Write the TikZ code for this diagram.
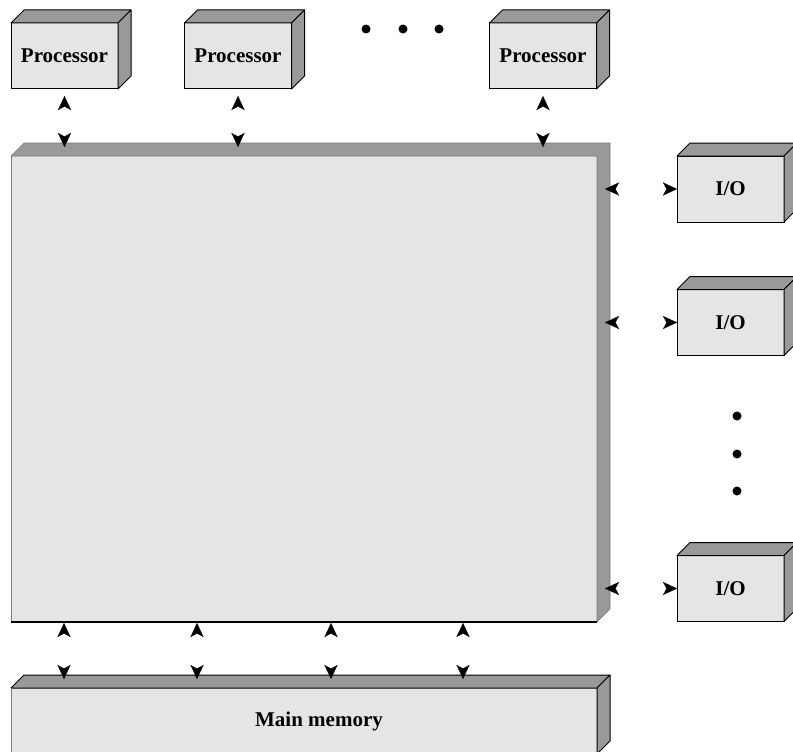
\documentclass[tikz,border=0pt]{standalone}
\usepackage{fontspec}
\setmainfont{Liberation Serif}
\usetikzlibrary{arrows.meta}
\definecolor{frontc}{HTML}{E5E5E5}
\definecolor{sidec}{HTML}{999999}
\definecolor{edgec}{HTML}{7A7A7A}
% top and right faces of a box whose front face is node #1
\newcommand{\boxfaces}[2]{%
  \filldraw[#2] (#1.north west) -- ++(13,-13) -- ([shift={(13,-13)}]#1.north east) -- (#1.north east) -- cycle;
  \filldraw[#2] (#1.north east) -- ++(13,-13) -- ([shift={(13,-13)}]#1.south east) -- (#1.south east) -- cycle;
}
\begin{document}
\begin{tikzpicture}[x=1pt,y=-1pt,
  cube/.style={draw=black, line width=1pt, fill=frontc, minimum width=107pt, minimum height=66pt,
    outer sep=0pt, inner sep=0pt, font=\fontsize{21}{25}\selectfont\bfseries},
  face/.style={fill=sidec, draw=black, line width=1pt, line join=round},
  softface/.style={fill=sidec, draw=edgec, line width=0.6pt, line join=round},
  bus/.style={draw=white, line width=0.1pt, >={Stealth[length=14pt 0 0,width=13pt 0 0,inset=3.5pt 0 0,color=black,fill=black]}, <->},
  dot/.style={circle, fill=black, minimum size=9pt, inner sep=0pt}]
\clip (0,0) rectangle (793,752);

% system interconnect (large box)
\node[fill=frontc, minimum width=586pt, minimum height=466pt, outer sep=0pt, inner sep=0pt] (sys) at (304,389) {};
\filldraw[softface] (sys.north west) -- ++(13,-13) -- ([shift={(13,-13)}]sys.north east)
  -- ([shift={(13,-13)}]sys.south east) -- (sys.south east) -- (sys.north east) -- cycle;
\draw[edgec, line width=0.6pt] (sys.north west) -- (sys.south west);
\draw[black, line width=1.2pt] (sys.south west) -- (sys.south east);

% processors
\node[cube] (p1) at (64.5,56) {Processor};
\boxfaces{p1}{face}
\node[cube] (p2) at (238,56) {Processor};
\boxfaces{p2}{face}
\node[cube] (p3) at (543,56) {Processor};
\boxfaces{p3}{face}
\node[dot] (h1) at (366,29) {};
\node[dot] (h2) at (403,29) {};
\node[dot] (h3) at (439,29) {};

% I/O modules
\node[cube] (io1) at (730.5,189) {I/O};
\boxfaces{io1}{face}
\node[cube] (io2) at (730.5,322.5) {I/O};
\boxfaces{io2}{face}
\node[cube] (io3) at (730.5,588.5) {I/O};
\boxfaces{io3}{face}
\node[dot] (v1) at (737,416) {};
\node[dot] (v2) at (737,454) {};
\node[dot] (v3) at (737,491) {};

% main memory
\node[fill=frontc, minimum width=586pt, minimum height=66pt, outer sep=0pt, inner sep=0pt] (mem) at (304,721) {};
\boxfaces{mem}{face}
\draw[edgec, line width=0.6pt] (mem.north west) -- (mem.south west);
\node[font=\fontsize{21}{25}\selectfont\bfseries, inner sep=0pt] (memtext) at (319,721) {Main memory};

% processor connections
\draw[bus] ([yshift=-7pt]p1.south) -- ([yshift=9pt]p1.south |- sys.north);
\draw[bus] ([yshift=-7pt]p2.south) -- ([yshift=9pt]p2.south |- sys.north);
\draw[bus] ([yshift=-7pt]p3.south) -- ([yshift=9pt]p3.south |- sys.north);

% I/O connections
\draw[bus] ([xshift=8pt]sys.east |- io1.west) -- (io1.west);
\draw[bus] ([xshift=8pt]sys.east |- io2.west) -- (io2.west);
\draw[bus] ([xshift=8pt]sys.east |- io3.west) -- (io3.west);

% memory connections
\coordinate (b1) at (64,622);
\coordinate (b2) at (197,622);
\coordinate (b3) at (331,622);
\coordinate (b4) at (463,622);
\draw[bus] ([yshift=-1pt]b1) -- ([yshift=9pt]b1 |- mem.north);
\draw[bus] ([yshift=-1pt]b2) -- ([yshift=9pt]b2 |- mem.north);
\draw[bus] ([yshift=-1pt]b3) -- ([yshift=9pt]b3 |- mem.north);
\draw[bus] ([yshift=-1pt]b4) -- ([yshift=9pt]b4 |- mem.north);
\end{tikzpicture}
\end{document}
